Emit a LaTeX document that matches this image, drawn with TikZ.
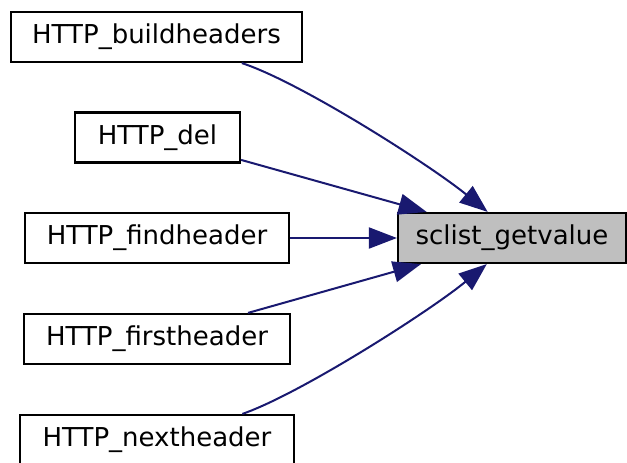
\documentclass[tikz,border=0pt]{standalone}
\usepackage{fontspec}
\setmainfont{DejaVu Sans}
\usepackage{tikz}
\usetikzlibrary{arrows.meta}
\definecolor{edgeBlue} {RGB}{25,  25, 112}
\definecolor{nodeGray} {RGB}{191,191,191}

\begin{document}
\begin{tikzpicture}[x=0.5pt,y=-0.5pt,
    fnbox/.style={draw=black,line width=1.1pt,minimum height=25pt,
                  inner sep=0pt,font=\fontsize{13}{15}\selectfont},
    callarrow/.style={draw=edgeBlue,line width=1pt,
                  -{Triangle[length=14pt,width=10.5pt]}}]

    \useasboundingbox (0,0) rectangle (627,462);

    % Funcoes que chamam
    \foreach \nm/\x/\y/\w/\txt in {
      build/156.5/37/145.5/{HTTP\_buildheaders},
      del/157.5/137.5/82.5/{HTTP\_del},
      find/157/238/132/{HTTP\_findheader},
      first/157/339/133/{HTTP\_firstheader},
      next/157/440/137/{HTTP\_nextheader}}{
      \node[fnbox,minimum width=\w pt] (\nm) at (\x,\y) {\txt};
    }

    % Funcao chamada
    \node[fnbox,fill=nodeGray,minimum width=114pt] (getvalue) at (512,238)
      {sclist\_getvalue};

    % Chamadas
    \draw[callarrow] (build.-17) .. controls (300,82) and (430,165) .. (getvalue.133.8);
    \draw[callarrow] (del.-15.3) -- (getvalue.163.6);
    \draw[callarrow] (find) -- (getvalue);
    \draw[callarrow] (first.16) -- (getvalue.196.4);
    \draw[callarrow] (next.17) .. controls (300,394) and (430,311) .. (getvalue.226.2);

  \end{tikzpicture}
\end{document}
